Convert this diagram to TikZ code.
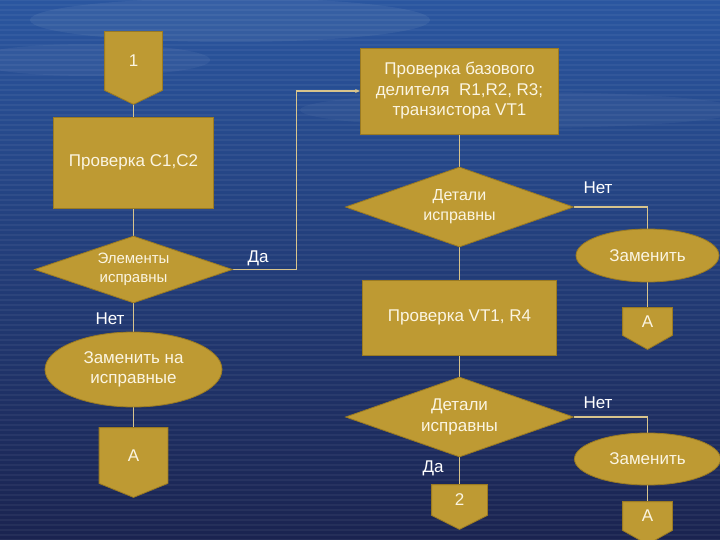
\documentclass[tikz,border=0pt]{standalone}
\usepackage{fontspec}
\setmainfont{Liberation Sans}
\usetikzlibrary{shapes.geometric,calc,arrows.meta}
\pgfdeclarelayer{back}
\pgfdeclarelayer{lines}
\pgfdeclarelayer{bg}
\pgfsetlayers{back,lines,bg,main}
\definecolor{gold}{HTML}{BE9A33}
\definecolor{goldedge}{HTML}{9A7A22}
\definecolor{linec}{HTML}{D8C48C}
\definecolor{txt}{HTML}{FBF5E2}
\definecolor{bgtop}{HTML}{2A56A0}
\definecolor{bgmid}{HTML}{1B2E68}
\definecolor{bgbot}{HTML}{1A2350}
\newcommand{\offpg}[6]{%
  \node[box,draw=none,fill=none,minimum width=#4,minimum height=#5] (#1) at (#2,#3) {#6};
  \coordinate (#1tip) at ($(#1.south)+(0,14)$);
  \begin{pgfonlayer}{bg}
    \filldraw[fill=gold,draw=goldedge,line width=0.8pt] (#1.north west) -- (#1.north east) -- (#1.south east) -- (#1tip) -- (#1.south west) -- cycle;
  \end{pgfonlayer}}
\begin{document}
\begin{tikzpicture}[x=1pt,y=-1pt,
  every node/.style={font=\fontsize{17}{20.5}\selectfont, text=txt},
  box/.style={rectangle, fill=gold, draw=goldedge, line width=0.8pt, align=center, inner sep=0pt},
  dec/.style={diamond, fill=gold, draw=goldedge, line width=0.8pt, align=center, inner sep=0pt, aspect=2.9},
  ell/.style={ellipse, fill=gold, draw=goldedge, line width=0.8pt, align=center, inner sep=0pt},
  conn/.style={draw=linec, line width=1.1pt},
  lbl/.style={text=white}]
\useasboundingbox (0,0) rectangle (720,540);
\clip (0,0) rectangle (720,540);
\begin{pgfonlayer}{back}
  \shade[top color=bgtop, middle color=bgmid, bottom color=bgbot] (0,0) rectangle (720,540);
  \fill[white,opacity=0.06] (230,20) ellipse (200 and 22);
  \fill[white,opacity=0.05] (90,60) ellipse (120 and 16);
  \fill[white,opacity=0.04] (520,110) ellipse (220 and 18);
  \foreach \y in {0,5,...,540} \draw[white,opacity=0.05,line width=1.4pt] (0,\y) -- (720,\y);
\end{pgfonlayer}

% left column
\offpg{c1}{133.5}{61}{57}{58}{1}
\node[box, minimum width=160, minimum height=91] (b1) at (133.5,162.5) {Проверка С1,С2};
\node[dec, minimum width=198, minimum height=67, aspect=2.95, font=\fontsize{15}{19}\selectfont] (d1) at (133.5,269.5) {Элементы\\исправны};
\node[ell, minimum width=177, minimum height=75] (e3) at (133.5,369.5) {Заменить на\\исправные};
\offpg{c5}{133.5}{455.5}{68}{55}{A}

% middle column
\node[box, minimum width=198, minimum height=86] (b2) at (459.5,91) {Проверка базового\\делителя~ R1,R2, R3;\\транзистора VT1};
\node[dec, minimum width=228, minimum height=80, font=\fontsize{16}{20}\selectfont] (d2) at (459.5,207) {Детали\\исправны};
\node[box, minimum width=194, minimum height=75] (b3) at (459.5,317.5) {Проверка VT1, R4};
\node[dec, minimum width=228, minimum height=80] (d3) at (459.5,417) {Детали\\исправны};
\offpg{c4}{459.5}{500}{55}{30}{2}

% right column
\node[ell, minimum width=143, minimum height=53] (e1) at (647.5,255.5) {Заменить};
\offpg{c2}{647.5}{321.5}{49}{27}{A}
\node[ell, minimum width=146, minimum height=52] (e2) at (647.5,459) {Заменить};
\offpg{c3}{647.5}{516}{49}{28}{A}

% labels
\node[lbl] (l1) at (258,258) {Да};
\node[lbl] (l2) at (110,319) {Нет};
\node[lbl] (l3) at (598,188) {Нет};
\node[lbl] (l4) at (598,403) {Нет};
\node[lbl] (l5) at (433,468) {Да};

\begin{pgfonlayer}{lines}
  \draw[conn] (c1tip) -- (b1.north);
  \draw[conn] (b1.south) -- (d1.north);
  \draw[conn] (d1.south) -- (e3.north);
  \draw[conn] (e3.south) -- (c5.north);
  \draw[conn,-{Stealth[length=5pt,width=4pt]}] (d1.east) -- ++(64,0) |- (b2.west);
  \draw[conn] (b2.south) -- (d2.north);
  \draw[conn] (d2.south) -- (b3.north);
  \draw[conn] (b3.south) -- (d3.north);
  \draw[conn] (d3.south) -- (c4.north);
  \draw[conn] (d2.east) -| (e1.north);
  \draw[conn] (e1.south) -- (c2.north);
  \draw[conn] (d3.east) -| (e2.north);
  \draw[conn] (e2.south) -- (c3.north);
\end{pgfonlayer}
\end{tikzpicture}
\end{document}
